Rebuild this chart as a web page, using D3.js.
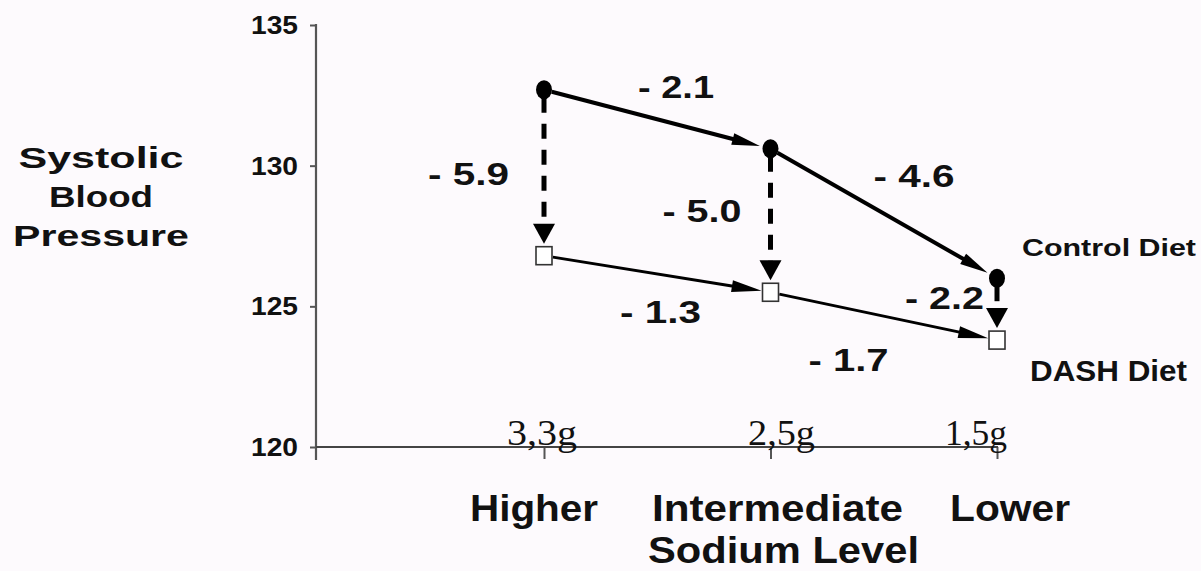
<!DOCTYPE html>
<html>
<head>
<meta charset="utf-8">
<script src="https://cdn.jsdelivr.net/npm/d3@7/dist/d3.min.js"></script>
<style>
  html, body { margin: 0; padding: 0; background: #fdfafd; }
  svg { display: block; }
  text { font-family: "Liberation Sans", Arial, sans-serif; font-weight: bold; fill: #111; }
</style>
</head>
<body>
<svg id="chart" width="1201" height="571"></svg>
<script>
// ---------------- data ----------------
const categories = ["Higher", "Intermediate", "Lower"];
const sodiumAmounts = ["3,3g", "2,5g", "1,5g"];
const controlDiet = [132.7, 130.6, 126.0];
const dashDiet = [126.8, 125.5, 123.8];
const controlChanges = ["- 2.1", "- 4.6"];
const dashChanges = ["- 1.3", "- 1.7"];
const dietEffects = ["- 5.9", "- 5.0", "- 2.2"];
const yTicks = [120, 125, 130, 135];
const yTitle = ["Systolic", "Blood", "Pressure"];
const xTitle = "Sodium Level";
const seriesNames = ["Control Diet", "DASH Diet"];

// ---------------- layout ----------------
const svg = d3.select("#chart");
const axisX = 316;
const x = d3.scalePoint().domain(categories).range([544, 997]);
const y = d3.scaleLinear().domain([120, 135]).range([447, 25]);

function label(g, px, py, str, opts) {
  const t = g.append("text")
    .attr("x", px).attr("y", py)
    .attr("text-anchor", opts.anchor || "start")
    .style("font-size", opts.size + "px")
    .text(str);
  if (opts.family) t.style("font-family", opts.family).style("font-weight", "normal");
  if (opts.width) t.attr("textLength", opts.width).attr("lengthAdjust", "spacingAndGlyphs");
  return t;
}

// ---------------- axes ----------------
const yAxis = svg.append("g")
  .attr("transform", `translate(${axisX},0)`)
  .call(d3.axisLeft(y).tickValues(yTicks).tickSize(6).tickSizeOuter(0).tickFormat(""));
yAxis.select(".domain").remove();
yAxis.selectAll(".tick line").attr("stroke", "#555").attr("stroke-width", 2);
svg.append("line")
  .attr("x1", axisX).attr("x2", axisX)
  .attr("y1", y(135) - 1).attr("y2", y(120) + 13)
  .attr("stroke", "#555").attr("stroke-width", 2.2);

yTicks.forEach(v => {
  label(svg, 298, y(v) + 9, String(v), { size: 25, anchor: "end", width: 47 });
});

const xAxis = svg.append("g")
  .attr("transform", `translate(0,${y(120)})`)
  .call(d3.axisBottom(x).tickSize(12).tickSizeOuter(0).tickFormat(""));
xAxis.select(".domain").remove();
xAxis.selectAll(".tick line").attr("stroke", "#555").attr("stroke-width", 2);
svg.append("line")
  .attr("x1", axisX).attr("x2", x("Lower") + 1)
  .attr("y1", y(120)).attr("y2", y(120))
  .attr("stroke", "#444").attr("stroke-width", 2.2);

// sodium amounts (serif) above the axis
const sodiumDx = [-2, 11, -21];
const sodiumW = [70, 67, 62];
categories.forEach((c, i) => {
  label(svg, x(c) + sodiumDx[i], y(120) - 2, sodiumAmounts[i],
    { size: 36, anchor: "middle", family: "'Liberation Serif', 'Times New Roman', serif", width: sodiumW[i] });
});

// category labels
const catDx = [-10, 7, 13];
const catW = [128, 251, 120];
categories.forEach((c, i) => {
  label(svg, x(c) + catDx[i], 521, c, { size: 36, anchor: "middle", width: catW[i] });
});
label(svg, x("Intermediate") + 13, 563, xTitle, { size: 36, anchor: "middle", width: 271 });

// y title
const yTitleW = [165, 104, 176];
yTitle.forEach((s, i) => {
  label(svg, 101, 168 + i * 39, s, { size: 30, anchor: "middle", width: yTitleW[i] });
});

// ---------------- arrows ----------------
function arrow(x1, y1, x2, y2, o) {
  const dx = x2 - x1, dy = y2 - y1, L = Math.hypot(dx, dy);
  const ux = dx / L, uy = dy / L, nx = -uy, ny = ux;
  const sx = x1 + ux * o.start, sy = y1 + uy * o.start;
  const tx = x2 - ux * o.end, ty = y2 - uy * o.end;
  const bx = tx - ux * o.head, by = ty - uy * o.head;
  const g = svg.append("g");
  const ln = g.append("line")
    .attr("x1", sx).attr("y1", sy)
    .attr("x2", bx + ux * 3).attr("y2", by + uy * 3)
    .attr("stroke", "#000").attr("stroke-width", o.sw);
  if (o.dash) ln.attr("stroke-dasharray", o.dash);
  g.append("polygon")
    .attr("points", [[tx, ty], [bx + nx * o.hw, by + ny * o.hw], [bx - nx * o.hw, by - ny * o.hw]].map(p => p.join(",")).join(" "))
    .attr("fill", "#000");
}

// control diet trend
for (let i = 0; i < categories.length - 1; i++) {
  arrow(x(categories[i]), y(controlDiet[i]), x(categories[i + 1]), y(controlDiet[i + 1]),
    { start: 8, end: 11, head: 28, hw: 6, sw: 4 });
}
// DASH diet trend
for (let i = 0; i < categories.length - 1; i++) {
  arrow(x(categories[i]), y(dashDiet[i]), x(categories[i + 1]), y(dashDiet[i + 1]),
    { start: 9, end: 9, head: 30, hw: 6, sw: 3 });
}
// diet effect (dashed vertical)
categories.forEach((c, i) => {
  arrow(x(c), y(controlDiet[i]), x(c), y(dashDiet[i]),
    { start: 8, end: 12, head: 20, hw: 11, sw: 5, dash: "15,11" });
});

// ---------------- markers ----------------
svg.append("g").selectAll("ellipse")
  .data(controlDiet).join("ellipse")
  .attr("cx", (d, i) => x(categories[i]))
  .attr("cy", d => y(d))
  .attr("rx", 8).attr("ry", 9.5)
  .attr("fill", "#000");

svg.append("g").selectAll("rect")
  .data(dashDiet).join("rect")
  .attr("x", (d, i) => x(categories[i]) - 8)
  .attr("y", d => y(d) - 9)
  .attr("width", 16).attr("height", 18)
  .attr("fill", "#fff").attr("stroke", "#333").attr("stroke-width", 1.6);

// ---------------- annotations ----------------
const ctrlLabelPos = [[94, 8], [103, 38]];
controlChanges.forEach((s, i) => {
  const xs = x(categories[i]) + ctrlLabelPos[i][0];
  const ys = y(controlDiet[i]) + ctrlLabelPos[i][1];
  label(svg, xs, ys, s, { size: 31, width: [76, 81][i] });
});
const dashLabelPos = [[76, 67], [38, 79]];
dashChanges.forEach((s, i) => {
  const xs = x(categories[i]) + dashLabelPos[i][0];
  const ys = y(dashDiet[i]) + dashLabelPos[i][1];
  label(svg, xs, ys, s, { size: 31, width: [81, 80][i] });
});
const effectPos = [[-116, 12], [-108, 1], [-92, 0]];
dietEffects.forEach((s, i) => {
  const mid = (y(controlDiet[i]) + y(dashDiet[i])) / 2;
  label(svg, x(categories[i]) + effectPos[i][0], mid + effectPos[i][1], s, { size: 31, width: [81, 79, 79][i] });
});

// series names
label(svg, x("Lower") + 25, y(controlDiet[2]) - 22, seriesNames[0], { size: 23, width: 174 });
label(svg, x("Lower") + 33, y(dashDiet[2]) + 41, seriesNames[1], { size: 29, width: 157 });
</script>
</body>
</html>
